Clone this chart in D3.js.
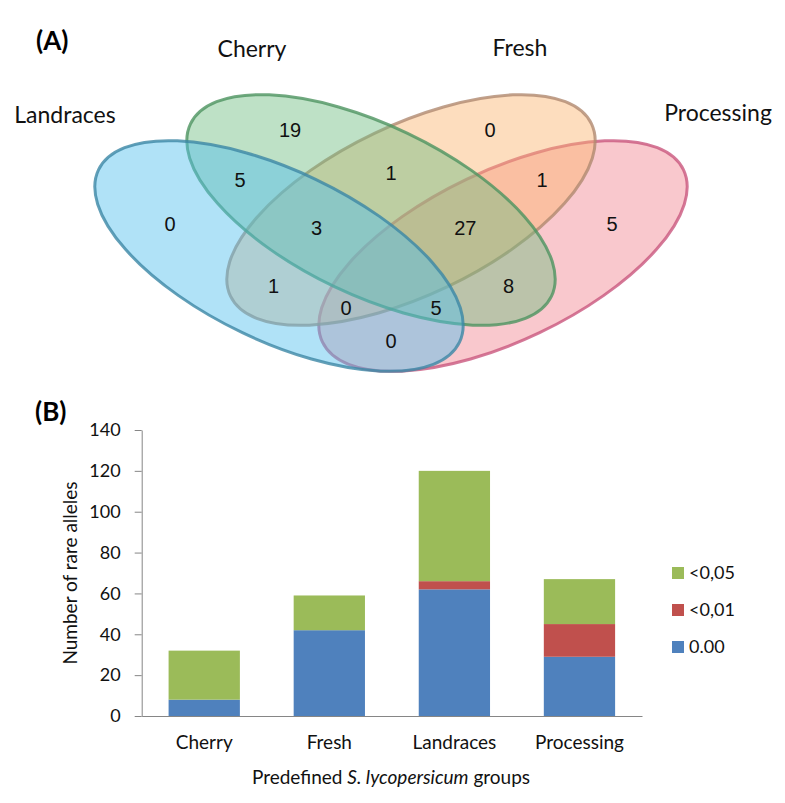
<!DOCTYPE html>
<html><head><meta charset="utf-8">
<script src="https://cdn.jsdelivr.net/npm/d3@7"></script>
<style>body{margin:0;background:#fff} svg{display:block}</style>
</head><body>
<svg id="chart" width="785" height="803"></svg>
<script>
// ---------- DATA ----------
const vennSets = ["Landraces","Cherry","Fresh","Processing"];
const vennSetKeys = ["L","C","F","P"];
const vennRegionKeys = ["L","C","F","P","LC","LF","LP","CF","CP","FP","LCF","LCP","LFP","CFP"];
const vennRegionCounts = [0,19,0,5,5,1,0,1,8,1,3,5,0,27];

const groups = ["Cherry","Fresh","Landraces","Processing"];
const seriesNames = ["0.00","<0,01","<0,05"];
const zeroValues = [8,42,62,29];
const lt001Values = [0,0,4,16];
const lt005Values = [24,17,54,22];
const yTicks = [0,20,40,60,80,100,120,140];

// ---------- SETUP ----------
const svg = d3.select("#chart");
const FONT = "Lato, 'Open Sans', sans-serif";
const NUMFONT = "'Liberation Sans', Arial, sans-serif";

// ---------- PANEL A : VENN ----------
const RX = 200, RY = 85;
const ellLayout = {
  L:{cx:279, cy:256, rot:25.5, fill:"#4FBEED", stroke:"#3C87A5", z:3},
  C:{cx:371, cy:210, rot:25.5, fill:"#6EBC80", stroke:"#4E9460", z:2},
  F:{cx:411, cy:210, rot:-25.5, fill:"#FAB36E", stroke:"#B08A70", z:1},
  P:{cx:503, cy:256, rot:-25.5, fill:"#F18490", stroke:"#C9577E", z:0}
};
const setLabelPos = {
  Landraces:{x:65, y:115}, Cherry:{x:252, y:49}, Fresh:{x:520, y:48}, Processing:{x:718, y:113}
};
const ells = vennSetKeys.map((k,i)=>Object.assign({key:k, name:vennSets[i]}, ellLayout[k]));
const drawOrder = ells.slice().sort((a,b)=>a.z-b.z);

const gA = svg.append("g");
gA.selectAll("ellipse").data(drawOrder).join("ellipse")
  .attr("cx",d=>d.cx).attr("cy",d=>d.cy).attr("rx",RX).attr("ry",RY)
  .attr("transform",d=>`rotate(${d.rot} ${d.cx} ${d.cy})`)
  .attr("fill",d=>d.fill).attr("fill-opacity",0.45)
  .attr("stroke",d=>d.stroke).attr("stroke-width",3).attr("stroke-opacity",0.8);

gA.selectAll("text.setlabel").data(ells).join("text")
  .attr("x",d=>setLabelPos[d.name].x).attr("y",d=>setLabelPos[d.name].y)
  .attr("dy","0.35em").attr("text-anchor","middle")
  .style("font-family",FONT).style("font-size","23px").attr("fill","#111")
  .text(d=>d.name);

// region membership on a grid -> label anchor per region
function codeAt(x,y){
  let s="";
  ells.forEach(e=>{
    const t=e.rot*Math.PI/180, dx=x-e.cx, dy=y-e.cy;
    const u=dx*Math.cos(t)+dy*Math.sin(t), v=-dx*Math.sin(t)+dy*Math.cos(t);
    if((u/RX)**2+(v/RY)**2<=1) s+=e.key;
  });
  return s;
}
const X0=60,X1=720,Y0=60,Y1=400,ST=2;
const nx=Math.floor((X1-X0)/ST)+1, ny=Math.floor((Y1-Y0)/ST)+1;
const grid=new Array(nx*ny);
for(let j=0;j<ny;j++)for(let i=0;i<nx;i++)grid[j*nx+i]=codeAt(X0+i*ST,Y0+j*ST);
const boundary={}, interior={}, allpts={};
for(let j=0;j<ny;j++)for(let i=0;i<nx;i++){
  const c=grid[j*nx+i];
  const edge = i===0||j===0||i===nx-1||j===ny-1 ||
    grid[j*nx+i-1]!==c||grid[j*nx+i+1]!==c||grid[(j-1)*nx+i]!==c||grid[(j+1)*nx+i]!==c;
  const p=[X0+i*ST,Y0+j*ST];
  (edge?(boundary[c]=boundary[c]||[]):(interior[c]=interior[c]||[])).push(p);
  (allpts[c]=allpts[c]||[]).push(p);
}
// pole of inaccessibility with a text-shaped (wide) distance metric
function pole(k, wy){
  const pts=interior[k]||[], bd=boundary[k]||[];
  let best=null,bd2=-1;
  pts.forEach(p=>{
    let m=Infinity;
    for(const q of bd){const d=(p[0]-q[0])**2+(wy*(p[1]-q[1]))**2; if(d<m){m=d; if(m<bd2)break;}}
    if(m>bd2){bd2=m;best=p;}
  });
  return best;
}
function centroid(k){const p=allpts[k]; return [d3.mean(p,d=>d[0]),d3.mean(p,d=>d[1])];}
const regionData = vennRegionKeys.map((k,i)=>({
  key:k, count:vennRegionCounts[i],
  pos: k.length===1 ? pole(k,2) : centroid(k)
}));
gA.selectAll("text.count").data(regionData.filter(d=>d.pos)).join("text")
  .attr("x",d=>d.pos[0]).attr("y",d=>d.pos[1]).attr("dy","0.35em")
  .attr("text-anchor","middle").style("font-family",NUMFONT).style("font-size","20px")
  .attr("fill","#111").text(d=>d.count);

svg.append("text").attr("x",36).attr("y",41).attr("dy","0.35em")
  .style("font-family",FONT).style("font-weight","bold").style("font-size","26px")
  .attr("fill","#000").text("(A)");

// ---------- PANEL B : STACKED BARS ----------
const colors = {"0.00":"#4F81BD","<0,01":"#C0504D","<0,05":"#9BBB59"};
const x = d3.scaleBand().domain(groups).range([141.7,642]).paddingInner(0.43).paddingOuter(0.215);
const y = d3.scaleLinear().domain([0,140]).range([716,430]);
const table = groups.map((g,i)=>({group:g,"0.00":zeroValues[i],"<0,01":lt001Values[i],"<0,05":lt005Values[i]}));
const stacked = d3.stack().keys(seriesNames)(table);

const gB = svg.append("g");
gB.selectAll("g.series").data(stacked).join("g").attr("fill",d=>colors[d.key])
  .selectAll("rect").data(d=>d).join("rect")
  .attr("x",d=>x(d.data.group)).attr("width",x.bandwidth())
  .attr("y",d=>y(d[1])).attr("height",d=>y(d[0])-y(d[1]));

const yAxis = gB.append("g").attr("transform","translate(141.7,0)")
  .call(d3.axisLeft(y).tickValues(yTicks).tickSize(7).tickPadding(14).tickSizeOuter(0));
yAxis.selectAll("path,line").attr("stroke","#868686");
yAxis.selectAll("text").style("font-family",FONT).style("font-size","18px").attr("fill","#111");

const xAxis = gB.append("g").attr("transform","translate(0,716)")
  .call(d3.axisBottom(x).tickSize(0).tickPadding(20).tickSizeOuter(0));
xAxis.select("path").attr("stroke","#868686");
xAxis.selectAll("text").style("font-family",FONT).style("font-size","19px").attr("fill","#111");

gB.append("text").attr("transform","translate(70,573) rotate(-90)")
  .attr("text-anchor","middle").attr("dy","0.35em")
  .style("font-family",FONT).style("font-size","19px").attr("fill","#111")
  .text("Number of rare alleles");

const xt = gB.append("text").attr("x",391).attr("y",777).attr("dy","0.35em")
  .attr("text-anchor","middle").style("font-family",FONT).style("font-size","19px").attr("fill","#111");
xt.append("tspan").text("Predefined ");
xt.append("tspan").style("font-style","italic").text("S. lycopersicum");
xt.append("tspan").text(" groups");

const legendKeys = seriesNames.slice().reverse();
const lg = gB.selectAll("g.legend").data(legendKeys).join("g")
  .attr("transform",(d,i)=>`translate(672,${573+i*37})`);
lg.append("rect").attr("x",0).attr("y",-6).attr("width",12).attr("height",12).attr("fill",d=>colors[d]);
lg.append("text").attr("x",17).attr("dy","0.35em")
  .style("font-family",FONT).style("font-size","18px").attr("fill","#111").text(d=>d);

svg.append("text").attr("x",35).attr("y",412).attr("dy","0.35em")
  .style("font-family",FONT).style("font-weight","bold").style("font-size","26px")
  .attr("fill","#000").text("(B)");
</script>
</body></html>
